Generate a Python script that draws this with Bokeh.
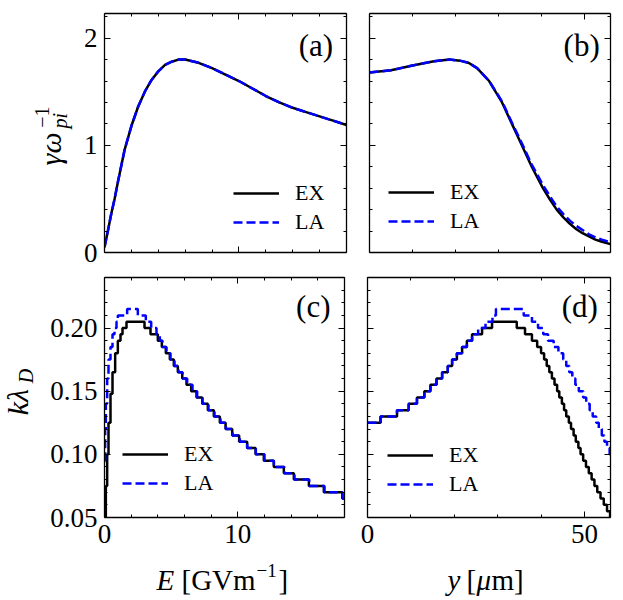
import math
from bokeh.plotting import figure
from bokeh.models import (Range1d, LinearAxis, FixedTicker, Legend,
                          LegendItem, PrintfTickFormatter, Label)
from bokeh.core.properties import value
from bokeh.layouts import column, row
from bokeh.embed import file_html
from bokeh.resources import INLINE

FONT = "Liberation Serif"

# ---------------- data ----------------
# (a) growth rate vs field E
E_a = [0.0, 0.25, 0.5, 0.75, 1.0, 1.5, 2.0, 2.5, 3.0, 3.5, 4.0, 4.5, 5.0, 5.5,
       6.0, 7.0, 8.0, 9.0, 10.0, 11.0, 12.0, 13.0, 14.0, 15.0, 16.0, 17.0, 18.0]
gam_a_ex = [0.05, 0.2, 0.36, 0.5, 0.66, 0.96, 1.18, 1.36, 1.50, 1.61, 1.69, 1.75,
            1.78, 1.80, 1.80, 1.77, 1.72, 1.66, 1.60, 1.53, 1.46, 1.40, 1.35,
            1.31, 1.27, 1.23, 1.19]
gam_a_la = [0.05, 0.2, 0.36, 0.5, 0.66, 0.96, 1.18, 1.36, 1.50, 1.61, 1.69, 1.75,
            1.78, 1.80, 1.80, 1.77, 1.72, 1.66, 1.60, 1.53, 1.46, 1.40, 1.35,
            1.31, 1.27, 1.23, 1.19]

# (b) growth rate vs position y
y_b = [0.0, 5.0, 10.0, 15.0, 18.6, 21.0, 23.0, 25.0, 27.8, 30.8, 33.1, 35.4,
       37.7, 40.3, 42.0, 43.5, 45.0, 46.5, 48.0, 49.5, 51.0, 52.5, 54.0, 56.0]
gam_b_ex = [1.68, 1.70, 1.745, 1.785, 1.80, 1.79, 1.77, 1.72, 1.60, 1.40, 1.20,
            1.00, 0.80, 0.60, 0.49, 0.40, 0.33, 0.27, 0.22, 0.18, 0.15, 0.12,
            0.10, 0.078]
gam_b_la = [1.68, 1.70, 1.745, 1.785, 1.80, 1.79, 1.77, 1.72, 1.60, 1.41, 1.21,
            1.02, 0.82, 0.63, 0.52, 0.43, 0.36, 0.30, 0.25, 0.21, 0.17, 0.14,
            0.12, 0.095]

# (c) k lambda_D vs E (stepped)
E_c_ex = [0.0, 0.1, 0.2, 0.3, 0.45, 0.6, 0.8, 1.0, 1.2, 1.35, 1.65, 3.0, 3.45,
          4.0, 4.3, 4.6, 4.9, 5.2, 5.5, 5.83, 6.15, 6.5, 6.9, 7.33, 7.75, 8.2,
          8.65, 9.08, 9.58, 10.1, 10.7, 11.33, 11.95, 12.7, 13.45, 14.2, 15.33,
          16.45, 17.83, 18.0]
k_c_ex = [0.05, 0.075, 0.1, 0.125, 0.148, 0.165, 0.18, 0.19, 0.195, 0.2, 0.205,
          0.2, 0.195, 0.19, 0.185, 0.18, 0.175, 0.17, 0.165, 0.16, 0.155, 0.15,
          0.145, 0.14, 0.135, 0.13, 0.125, 0.12, 0.115, 0.11, 0.105, 0.1, 0.095,
          0.09, 0.085, 0.08, 0.075, 0.07, 0.065, 0.065]
E_c_la = [0.0, 0.05, 0.1, 0.2, 0.3, 0.45, 0.6, 0.75, 0.9, 1.0, 1.7, 2.5, 3.1,
          3.5, 3.9, 4.15, 4.35, 4.65, 4.95, 5.25, 5.55, 5.85, 6.2, 6.6, 6.95,
          7.35, 7.8, 8.25, 8.7, 9.1, 9.6, 10.15, 10.7, 11.35, 12.0, 12.7, 13.5,
          14.25, 15.35, 16.5, 17.85, 18.0]
k_c_la = [0.095, 0.12, 0.14, 0.16, 0.175, 0.185, 0.195, 0.2, 0.205, 0.21, 0.215,
          0.21, 0.205, 0.2, 0.195, 0.19, 0.185, 0.18, 0.175, 0.17, 0.165, 0.16,
          0.155, 0.15, 0.145, 0.14, 0.135, 0.13, 0.125, 0.12, 0.115, 0.11,
          0.105, 0.1, 0.095, 0.09, 0.085, 0.08, 0.075, 0.07, 0.065, 0.065]

# (d) k lambda_D vs y (stepped)
y_d_ex = [0.0, 3.0, 6.8, 9.5, 11.4, 13.1, 14.5, 15.9, 17.2, 18.5, 19.5, 20.6,
          21.8, 22.9, 24.1, 26.4, 28.7, 34.4, 36.3, 37.9, 39.1, 40.0, 40.7,
          41.3, 41.9, 42.5, 43.1, 43.7, 44.2, 44.8, 45.3, 45.8, 46.4, 46.9,
          47.5, 48.0, 48.6, 49.1, 49.7, 50.35, 51.0, 51.65, 52.3, 52.95, 53.7,
          54.45, 55.2, 55.9, 56.0]
k_d_ex = [0.125, 0.13, 0.135, 0.14, 0.145, 0.15, 0.155, 0.16, 0.165, 0.17,
          0.175, 0.18, 0.185, 0.19, 0.195, 0.2, 0.205, 0.2, 0.195, 0.19, 0.185,
          0.18, 0.175, 0.17, 0.165, 0.16, 0.155, 0.15, 0.145, 0.14, 0.135, 0.13,
          0.125, 0.12, 0.115, 0.11, 0.105, 0.1, 0.095, 0.09, 0.085, 0.08, 0.075,
          0.07, 0.065, 0.06, 0.055, 0.05, 0.05]
y_d_la = [0.0, 3.0, 6.8, 9.5, 11.4, 13.1, 14.5, 15.9, 17.2, 18.5, 19.5, 20.6,
          21.8, 22.9, 24.1, 25.5, 27.2, 28.8, 29.6, 36.0, 37.9, 39.3, 40.5,
          41.6, 42.9, 44.0, 45.1, 45.8, 46.5, 47.2, 47.9, 48.7, 49.7, 50.4,
          51.2, 51.9, 52.7, 53.3, 54.0, 54.6, 55.2, 55.8, 56.0]
k_d_la = [0.125, 0.13, 0.135, 0.14, 0.145, 0.15, 0.155, 0.16, 0.165, 0.17,
          0.175, 0.18, 0.185, 0.19, 0.195, 0.2, 0.205, 0.21, 0.215, 0.21, 0.205,
          0.2, 0.195, 0.19, 0.185, 0.18, 0.175, 0.17, 0.165, 0.16, 0.155, 0.15,
          0.145, 0.14, 0.135, 0.13, 0.125, 0.12, 0.115, 0.11, 0.105, 0.1, 0.1]

series_names = ["EX", "LA"]
panel_tags = ["(a)", "(b)", "(c)", "(d)"]

E_ticks = [0, 10]
E_minor = [2, 4, 6, 8, 12, 14, 16, 18]
y_ticks = [0, 50]
y_minor = [10, 20, 30, 40]
g_ticks = [0, 1, 2]
g_minor = [0.2, 0.4, 0.6, 0.8, 1.2, 1.4, 1.6, 1.8, 2.0, 2.2]
k_ticks = [0.05, 0.10, 0.15, 0.20]
k_minor = [0.06, 0.07, 0.08, 0.09, 0.11, 0.12, 0.13, 0.14, 0.16, 0.17, 0.18,
           0.19, 0.21, 0.22, 0.23, 0.24]

BLUE = "#0000ff"
LW = 2.5
HALF = math.pi / 2


def make_fig(xr, yr, bl, br, bt, bb, fw, fh):
    p = figure(frame_width=fw, frame_height=fh,
               x_range=Range1d(*xr), y_range=Range1d(*yr),
               output_backend="svg", toolbar_location=None,
               min_border_left=bl, min_border_right=br,
               min_border_top=bt, min_border_bottom=bb,
               x_axis_location=None, y_axis_location=None)
    p.grid.visible = False
    p.outline_line_color = None
    return p


def style_axis(ax, show):
    ax.axis_line_color = "black"
    ax.axis_line_width = 1.3
    ax.major_tick_in = 6
    ax.major_tick_out = 0
    ax.minor_tick_in = 3
    ax.minor_tick_out = 0
    ax.major_tick_line_color = "black"
    ax.minor_tick_line_color = "black"
    ax.major_tick_line_width = 1
    ax.minor_tick_line_width = 1
    ax.major_label_text_font = FONT
    ax.major_label_text_font_size = "27px"
    if show:
        ax.major_label_text_color = "black"
        ax.major_label_standoff = 7
    else:
        ax.major_label_text_color = None
        ax.major_label_standoff = 0


def add_axes(p, xt, xm, yt, ym, show_x, show_y, yfmt=None):
    for side in ("below", "above"):
        ax = LinearAxis(ticker=FixedTicker(ticks=xt, minor_ticks=xm))
        style_axis(ax, show_x and side == "below")
        p.add_layout(ax, side)
    for side in ("left", "right"):
        ax = LinearAxis(ticker=FixedTicker(ticks=yt, minor_ticks=ym))
        if yfmt is not None:
            ax.formatter = PrintfTickFormatter(format=yfmt)
        style_axis(ax, show_y and side == "left")
        p.add_layout(ax, side)


def add_legend(p, r_ex, r_la, loc):
    leg = Legend(items=[LegendItem(label=series_names[0], renderers=[r_ex]),
                        LegendItem(label=series_names[1], renderers=[r_la])],
                 location=loc, padding=0, margin=0, spacing=1,
                 glyph_width=46, glyph_height=28, label_height=28,
                 label_standoff=16, label_text_font=FONT,
                 label_text_font_size="22px", label_text_color="black",
                 border_line_color=None, background_fill_alpha=0)
    p.add_layout(leg, "center")


def tag(p, x, y, s):
    p.add_layout(Label(x=x, y=y, text=s, text_font=FONT,
                       text_font_size="31px", text_align="right",
                       text_baseline="middle", text_color="black"))


def label_fig(x0, x1, y0, y1):
    # a text-only strip whose data coordinates are page pixels (y negated)
    p = figure(width=x1 - x0, height=y1 - y0, title=None,
               x_range=Range1d(x0, x1), y_range=Range1d(-y1, -y0),
               output_backend="svg", toolbar_location=None, min_border=0,
               x_axis_location=None, y_axis_location=None)
    p.grid.visible = False
    p.outline_line_color = None
    return p


def piece(p, x, y, s, size, italic=False, angle=0.0, align="left",
          baseline="alphabetic"):
    p.text(x=[x], y=[-y], text=[s], text_font=value(FONT),
           text_font_size=value(f"{size}px"),
           text_font_style="italic" if italic else "normal",
           angle=angle, text_align=align, text_baseline=baseline,
           text_color="black")


# ---- y-label strip for row 1 ----
la = label_fig(0, 80, 0, 270)
piece(la, 50, 153, "γω", 30, italic=True, angle=HALF, align="center", baseline="middle")
piece(la, 59, 121, "pi", 20, italic=True, angle=HALF, align="center", baseline="middle")
piece(la, 41, 117, "−1", 20, angle=HALF, align="center", baseline="middle")

# ---- (a) ----
pa = make_fig((0, 18), (0, 2.23), 23, 12, 13, 18, 242, 239)
add_axes(pa, E_ticks, E_minor, g_ticks, g_minor, False, True)
ra1 = pa.line(E_a, gam_a_ex, line_color="black", line_width=LW)
ra2 = pa.line(E_a, gam_a_la, line_color=BLUE, line_width=LW, line_dash="9 4")
add_legend(pa, ra1, ra2, (129, 16))
tag(pa, 17.0, 1.93, panel_tags[0])

# ---- (b) ----
pb = make_fig((0, 56), (0, 2.23), 11, 8, 13, 18, 241, 239)
add_axes(pb, y_ticks, y_minor, g_ticks, g_minor, False, False)
rb1 = pb.line(y_b, gam_b_ex, line_color="black", line_width=LW)
rb2 = pb.line(y_b, gam_b_la, line_color=BLUE, line_width=LW, line_dash="9 4")
add_legend(pb, rb1, rb2, (19, 17))
tag(pb, 53.5, 1.93, panel_tags[1])

# ---- y-label strip for row 2 ----
lc = label_fig(0, 44, 270, 555)
piece(lc, 17, 418, "kλ", 30, italic=True, angle=HALF, align="center", baseline="middle")
piece(lc, 25, 387, "D", 20, italic=True, angle=HALF, align="center", baseline="middle")

# ---- (c) ----
pc = make_fig((0, 18), (0.05, 0.24), 60, 11, 7, 38, 240, 240)
add_axes(pc, E_ticks, E_minor, k_ticks, k_minor, True, True, yfmt="%.2f")
rc1 = pc.step(E_c_ex, k_c_ex, mode="after", line_color="black", line_width=LW)
rc2 = pc.step(E_c_la, k_c_la, mode="after", line_color=BLUE, line_width=LW,
              line_dash="9 4")
add_legend(pc, rc1, rc2, (18, 20))
tag(pc, 16.95, 0.2167, panel_tags[2])

# ---- (d) ----
pd = make_fig((0, 56), (0.05, 0.24), 12, 8, 7, 38, 243, 240)
add_axes(pd, y_ticks, y_minor, k_ticks, k_minor, True, False, yfmt="%.2f")
rd1 = pd.step(y_d_ex, k_d_ex, mode="after", line_color="black", line_width=LW)
rd2 = pd.step(y_d_la, k_d_la, mode="after", line_color=BLUE, line_width=LW,
              line_dash="9 4")
add_legend(pd, rd1, rd2, (20, 19))
tag(pd, 53.1, 0.217, panel_tags[3])

# ---- x-label strip ----
lx = label_fig(0, 618, 555, 599)
piece(lx, 156, 579, "E", 29, italic=True)
piece(lx, 181, 579, "[GVm", 29)
piece(lx, 256, 570, "−1", 19)
piece(lx, 278, 579, "]", 29)
piece(lx, 447, 579, "y", 29, italic=True)
piece(lx, 466, 579, "[", 29)
piece(lx, 476, 579, "μ", 29, italic=True)
piece(lx, 491, 579, "m]", 29)

layout = column(row(la, pa, pb), row(lc, pc, pd), lx)
open("out.html", "w").write(file_html(layout, INLINE))
